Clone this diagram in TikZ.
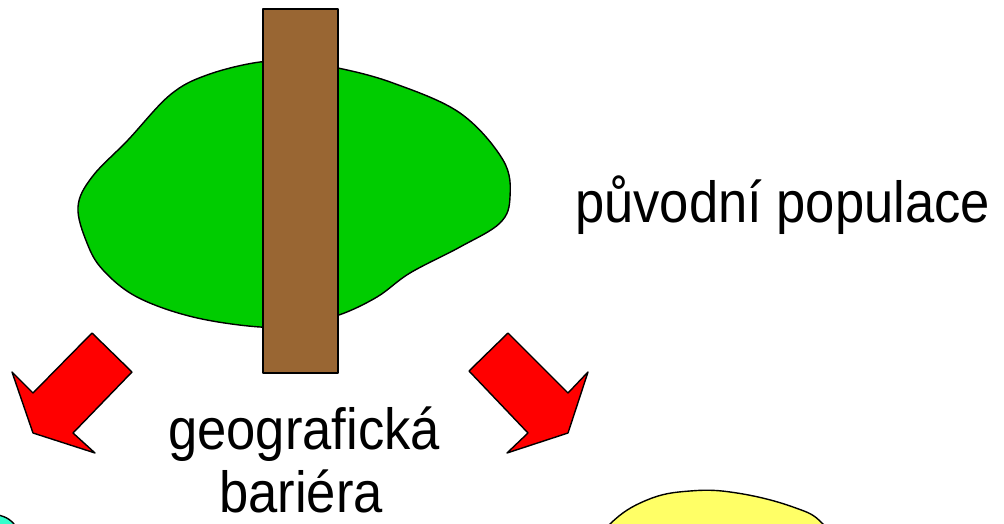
\documentclass[tikz,border=0pt]{standalone}
\usepackage{fontspec}
\setmainfont{Liberation Sans}
\definecolor{blobgreen}{HTML}{00CC00}
\definecolor{barbrown}{HTML}{996633}
\definecolor{blobyellow}{HTML}{FFFF66}
\definecolor{blobcyan}{HTML}{33FFCC}
\definecolor{arrowred}{HTML}{FF0000}
\tikzset{
  outline/.style={draw=black, line width=1.4pt, line join=round},
  bigarrow/.style={outline, fill=arrowred},
  label/.style={font=\fontsize{58}{63}\selectfont, inner sep=0pt},
}
\newcommand{\squeeze}[1]{\scalebox{0.906}[1]{#1}}
\begin{document}
\begin{tikzpicture}[x=1pt, y=-1pt]
\useasboundingbox (0,0) rectangle (1004,524);
\begin{scope}
\clip (0,0) rectangle (1004,524);
% cyan population (bottom left, mostly off picture)
\draw[outline, fill=blobcyan] plot[smooth cycle, tension=0.6] coordinates
  {(-100,560) (-50,508) (-10,513) (14,524) (30,560)};
% yellow population (bottom right, mostly off picture)
\draw[outline, fill=blobyellow] plot[smooth cycle, tension=0.7] coordinates
  {(585,560) (610,524) (647,500) (690,491) (737,493) (793,507) (823,524) (845,560) (720,600)};
\end{scope}
% original population
\draw[outline, fill=blobgreen] plot[smooth cycle, tension=0.6] coordinates
  {(300,63) (338,68) (393,83) (460,113) (503,160) (510,197) (500,223)
   (460,247) (410,273) (377,297) (339,315) (300,324) (260,327) (193,317)
   (137,297) (103,270) (87,243) (78,207) (92,177) (128,140) (170,95)
   (207,75) (260,62)};
% geographic barrier
\draw[outline, fill=barbrown] (263,9) rectangle (338,373);
% arrows
\draw[bigarrow] (92,333) -- (132,372) -- (73,433) -- (95,453) -- (33,433)
  -- (12,372) -- (33,393) -- cycle;
\draw[bigarrow] (508,333) -- (469,371) -- (528,433) -- (507,453) -- (568,433)
  -- (588,372) -- (568,393) -- cycle;
% labels
\node[label, anchor=base west] (orig) at (575,222) {\squeeze{původní populace}};
\node[label, anchor=base] (geo) at (304,449) {\squeeze{geografická}};
\node[label, anchor=base] (bar) at (301,512) {\squeeze{bariéra}};
\end{tikzpicture}
\end{document}
